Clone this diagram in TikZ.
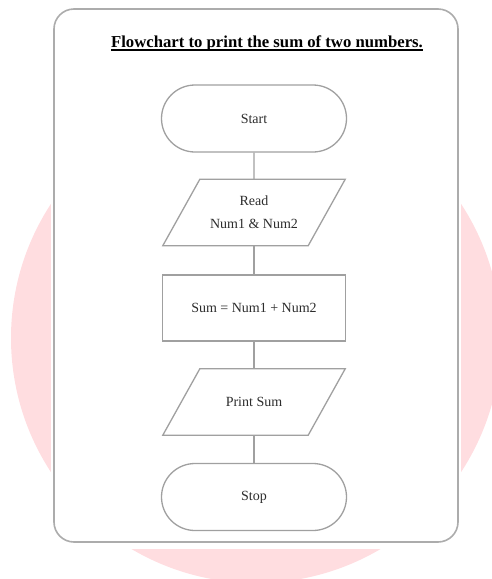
\documentclass[tikz,border=0pt]{standalone}
\usepackage{fontspec}
\setmainfont{Liberation Serif}
\usetikzlibrary{shapes.misc,calc}
\definecolor{blush}{RGB}{255,221,224}
\definecolor{edge}{RGB}{160,160,160}
\definecolor{cardedge}{RGB}{172,172,172}
\definecolor{ink}{RGB}{45,45,45}

\begin{document}
\begin{tikzpicture}[x=1pt,y=-1pt,
  bodyfont/.style={font=\fontsize{14}{23}\selectfont, text=ink},
  terminal/.style={rounded rectangle, draw=edge, line width=1.3pt,
    minimum width=185pt, minimum height=67pt, inner sep=0pt, bodyfont},
  iobox/.style={rectangle, minimum width=145pt, minimum height=66pt,
    inner sep=0pt, align=center, bodyfont},
  procbox/.style={rectangle, draw=edge, line width=1.3pt,
    minimum width=183pt, minimum height=66pt, inner sep=0pt, bodyfont},
  link/.style={draw=edge, line width=1.3pt},
  slant/.style={draw=edge, line width=1.3pt, line join=miter}]

\useasboundingbox (0,0) rectangle (491,579);

% soft disc behind the card
\fill[blush] (256,338) circle (245pt);
\fill[white] (51,0) rectangle (461,549);

% card
\draw[cardedge, line width=1.6pt, rounded corners=20pt, fill=white]
  (54,9) rectangle (458,542);

% heading
\node[font=\bfseries\fontsize{16.7}{20}\selectfont, inner sep=0pt, anchor=base]
  (title) at (267,47) {Flowchart to print the sum of two numbers.};
\draw[line width=1.3pt] ([yshift=-3pt]title.base west) -- ([yshift=-3pt]title.base east);

% flowchart
\node[terminal] (start) at (254,118.5) {Start};
\node[iobox]    (read)  at (254,212.5) {Read\\Num1 \& Num2};
\node[procbox]  (sum)   at (254,308)   {Sum = Num1 + Num2};
\node[iobox]    (print) at (254,402)   {Print Sum};
\node[terminal] (stop)  at (254,497)   {Stop};

% input/output parallelograms
\foreach \n in {read,print}{
  \draw[slant] ($(\n.north west)+(18.5,0)$) -- ($(\n.north east)+(18.5,0)$)
    -- ($(\n.south east)-(18.5,0)$) -- ($(\n.south west)-(18.5,0)$) -- cycle;
}

% connectors
\draw[link] (start) -- (read);
\draw[link] (read) -- (sum);
\draw[link] (sum) -- (print);
\draw[link] (print) -- (stop);

\end{tikzpicture}
\end{document}
